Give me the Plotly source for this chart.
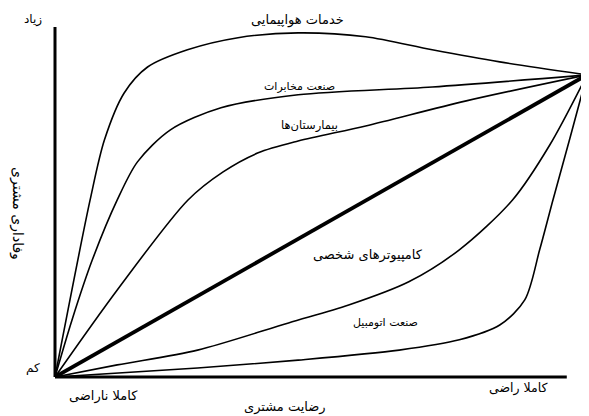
import plotly.graph_objects as go

# Customer satisfaction (x, 0-100) vs customer loyalty (y, 0-100)
airline_x = [0, 6.6, 9.3, 13.0, 17.4, 24.9, 34.4, 45.7, 58.4, 70.9, 83.6, 100]
airline_y = [0, 58.6, 78.5, 94.0, 102.6, 108.3, 112.3, 113.9, 112.6, 108.3, 104.3, 100]

telecom_x = [0, 3.2, 7.0, 11.7, 15.5, 21.7, 31.2, 45.7, 70.9, 100]
telecom_y = [0, 18.9, 38.7, 58.6, 71.2, 81.8, 89.1, 93.4, 96.0, 100]

hospital_x = [0, 11.7, 25.0, 31.6, 38.2, 45.7, 58.4, 77.3, 100]
hospital_y = [0, 28.8, 58.6, 67.9, 74.2, 78.1, 83.1, 91.4, 100]

linear_x = [0, 100]
linear_y = [0, 100]

pc_x = [0, 11.7, 26.8, 43.9, 55.2, 66.5, 76.0, 86.0, 93.0, 100]
pc_y = [0, 4.0, 8.9, 17.9, 23.8, 31.5, 42.1, 58.6, 76.8, 100]

auto_x = [0, 26.8, 45.7, 64.7, 76.0, 83.6, 88.3, 91.1, 93.6, 96.8, 100]
auto_y = [0, 3.0, 5.6, 8.9, 12.3, 17.2, 25.5, 42.1, 58.6, 79.1, 100]

series_names = ["خدمات هواپیمایی", "صنعت مخابرات", "بیمارستان‌ها", "کامپیوترهای شخصی", "صنعت اتومبیل"]

y_title = "وفاداری مشتری"
x_title = "رضایت مشتری"
x_low, x_high = "کاملا ناراضی", "کاملا راضی"
y_low, y_high = "کم", "زیاد"

FONT = "DejaVu Sans, Noto Sans, sans-serif"

fig = go.Figure()
curves = [(airline_x, airline_y), (telecom_x, telecom_y), (hospital_x, hospital_y),
          (linear_x, linear_y), (pc_x, pc_y), (auto_x, auto_y)]
for i, (xs, ys) in enumerate(curves):
    fig.add_trace(go.Scatter(
        x=xs, y=ys, mode="lines",
        line=dict(color="black", width=3.8 if i == 3 else 1.6,
                  shape="linear" if i == 3 else "spline", smoothing=0.85),
        showlegend=False, hoverinfo="skip", cliponaxis=False))


def txt(text, x, y, size, xref="paper", yref="paper", angle=0):
    return dict(x=x, y=y, xref=xref, yref=yref, text=text, showarrow=False,
                textangle=angle, xanchor="center", yanchor="middle",
                font=dict(size=size, color="black", family=FONT))


annotations = [
    txt(series_names[0], 45.5, 1.006, 13, xref="x"),
    txt(series_names[1], 45.9, 96.0, 11, xref="x", yref="y"),
    txt(series_names[2], 47.9, 83.4, 11.5, xref="x", yref="y"),
    txt(series_names[3], 58.8, 40.4, 13, xref="x", yref="y"),
    txt(series_names[4], 62.2, 17.9, 11, xref="x", yref="y"),
    txt(y_high, -0.041, 1.006, 12),
    txt(y_low, -0.041, 0.025, 12),
    txt(y_title, -0.0714, 0.462, 14, angle=90),
    txt(x_low, 0.092, -0.054, 13),
    txt(x_high, 0.870, -0.031, 12.5),
    txt(x_title, 0.432, -0.0845, 13),
]

# page body has an 8px margin, so the figure is sized/offset to compensate
fig.update_layout(
    width=581, height=408,
    margin=dict(l=47, r=2, t=14, b=39),
    paper_bgcolor="white", plot_bgcolor="white",
    xaxis=dict(range=[0, 100], showgrid=False, zeroline=False, showticklabels=False,
               ticks="", showline=False),
    yaxis=dict(range=[0, 117.5], showgrid=False, zeroline=False, showticklabels=False,
               ticks="", showline=False),
    annotations=annotations,
    shapes=[
        dict(type="line", xref="paper", yref="paper", x0=0, x1=0.962, y0=0, y1=0,
             line=dict(color="black", width=3)),
        dict(type="line", xref="paper", yref="paper", x0=0, x1=0, y0=0, y1=0.986,
             line=dict(color="black", width=3)),
    ],
)

fig.write_html("out.html")
